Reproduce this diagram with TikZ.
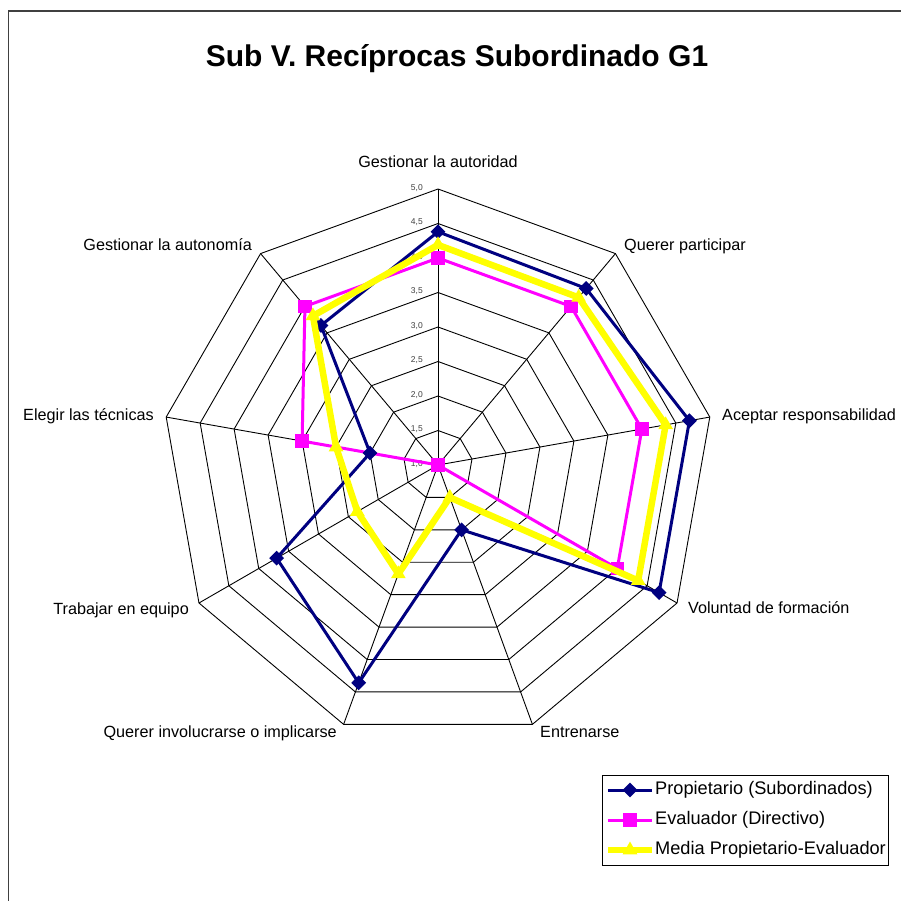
\documentclass[tikz,border=0pt]{standalone}
\usepackage{fontspec}
\setmainfont{Liberation Sans}
\usetikzlibrary{shapes.geometric}

\definecolor{navy}{RGB}{0,0,128}
\definecolor{pinkE}{RGB}{255,0,255}
\definecolor{yellowM}{RGB}{255,255,0}

\tikzset{
  gridline/.style={black, line width=0.9pt},
  ringpoly/.style={gridline},
  axislabel/.style={font=\fontsize{16.2}{19}\selectfont, inner sep=0pt, text height=11.5pt, text depth=3.4pt},
  ticklabel/.style={font=\fontsize{8.5}{10}\selectfont, inner sep=0pt, text=black!75, anchor=east},
  titletext/.style={font=\fontsize{30}{36}\selectfont\bfseries, inner sep=0pt},
  lineP/.style={navy, line width=3pt, line join=round},
  lineE/.style={pinkE, line width=3pt, line join=round},
  lineM/.style={yellowM, line width=6.5pt, line join=round},
  mkP/.style={diamond, fill=navy, inner sep=0pt, minimum width=15pt, minimum height=15pt},
  mkE/.style={rectangle, fill=pinkE, inner sep=0pt, minimum size=13.5pt},
  mkM/.style={regular polygon, regular polygon sides=3, fill=yellowM, inner sep=0pt, minimum size=17pt},
  legendtext/.style={font=\fontsize{18.2}{21}\selectfont, inner sep=0pt, anchor=west, text height=13pt, text depth=3.8pt},
}

\begin{document}
\begin{tikzpicture}[x=1pt, y=-1pt]
\useasboundingbox (0,0) rectangle (901,901);
\fill[white] (0,0) rectangle (901,901);

% chart frame (right and bottom sides lie beyond the page)
\draw[line width=1.6pt, black!75] (8.5,901) -- (8.5,11) -- (901,11);

% title
\node[titletext] (title) at (457,59) {Sub V. Recíprocas Subordinado G1};

% radar plot, centred on the value 1,0
\begin{scope}[shift={(438,465)}, y=1pt]
  \coordinate (O) at (0,0);
  % rings every 0,5 from 1,5 to 5,0
  \foreach \k in {1,...,8}{
    \pgfmathsetmacro\R{\k*34.5}
    \draw[ringpoly] (90:\R) -- (50:\R) -- (10:\R) -- (-30:\R) -- (-70:\R)
      -- (-110:\R) -- (-150:\R) -- (170:\R) -- (130:\R) -- cycle;
  }
  % spokes
  \foreach \i in {0,...,8}{
    \coordinate (V\i) at ({90-40*\i}:276);
    \draw[gridline] (O) -- (V\i);
  }
  % scale labels
  \foreach \k/\t in {0/{1,0},1/{1,5},2/{2,0},3/{2,5},4/{3,0},5/{3,5},6/{4,0},7/{4,5},8/{5,0}}{
    \node[ticklabel] (tick\k) at (-15,{\k*34.5+1}) {\t};
  }
  % data points: Propietario / Evaluador, and their mean
  \foreach \p/\e [count=\i from 0] in {4.38/4.0, 4.34/4.0, 4.70/4.0, 4.70/4.0, 2.00/1.0, 4.36/1.0, 3.70/1.0, 2.00/3.0, 3.64/4.0}{
    \coordinate (P\i) at ({90-40*\i}:{(\p-1)*69});
    \coordinate (E\i) at ({90-40*\i}:{(\e-1)*69});
    \coordinate (M\i) at ({90-40*\i}:{((\p+\e)/2-1)*69});
  }
  % Evaluador (Directivo)
  \draw[lineE] (E0) -- (E1) -- (E2) -- (E3) -- (E4) -- (E5) -- (E6) -- (E7) -- (E8) -- cycle;
  \foreach \i in {0,...,8}{ \node[mkE] (mE\i) at (E\i) {}; }
  % Propietario (Subordinados)
  \draw[lineP] (P0) -- (P1) -- (P2) -- (P3) -- (P4) -- (P5) -- (P6) -- (P7) -- (P8) -- cycle;
  \foreach \i in {0,...,8}{ \node[mkP] (mP\i) at (P\i) {}; }
  % Media Propietario-Evaluador
  \draw[lineM] (M0) -- (M1) -- (M2) -- (M3) -- (M4) -- (M5) -- (M6) -- (M7) -- (M8) -- cycle;
  \foreach \i in {0,...,8}{ \node[mkM] (mM\i) at (M\i) {}; }
\end{scope}

% category labels
\node[axislabel] (c0) at (438,163) {Gestionar la autoridad};
\node[axislabel, anchor=west] (c1) at (624,246) {Querer participar};
\node[axislabel, anchor=west] (c2) at (722,416) {Aceptar responsabilidad};
\node[axislabel, anchor=west] (c3) at (688,609) {Voluntad de formación};
\node[axislabel, anchor=west] (c4) at (540,733) {Entrenarse};
\node[axislabel, anchor=east] (c5) at (337,733) {Querer involucrarse o implicarse};
\node[axislabel, anchor=east] (c6) at (189,610) {Trabajar en equipo};
\node[axislabel, anchor=east] (c7) at (154,416) {Elegir las técnicas};
\node[axislabel, anchor=east] (c8) at (252,246) {Gestionar la autonomía};

% legend
\node[draw=black, line width=0.9pt, fill=white, minimum width=286pt, minimum height=90pt, inner sep=0pt] (legend) at (745,820) {};
\coordinate (lg1a) at (608,790); \coordinate (lg1b) at (652,790);
\coordinate (lg2a) at (608,820); \coordinate (lg2b) at (652,820);
\coordinate (lg3a) at (608,850); \coordinate (lg3b) at (652,850);
\draw[lineP] (lg1a) -- (lg1b);
\node[mkP] (lgm1) at (630,790) {};
\node[legendtext] (lgt1) at (655,790) {Propietario (Subordinados)};
\draw[lineE] (lg2a) -- (lg2b);
\node[mkE] (lgm2) at (630,820) {};
\node[legendtext] (lgt2) at (655,820) {Evaluador (Directivo)};
\draw[lineM] (lg3a) -- (lg3b);
\node[mkM] (lgm3) at (630,850) {};
\node[legendtext] (lgt3) at (655,850) {Media Propietario-Evaluador};
\end{tikzpicture}
\end{document}
